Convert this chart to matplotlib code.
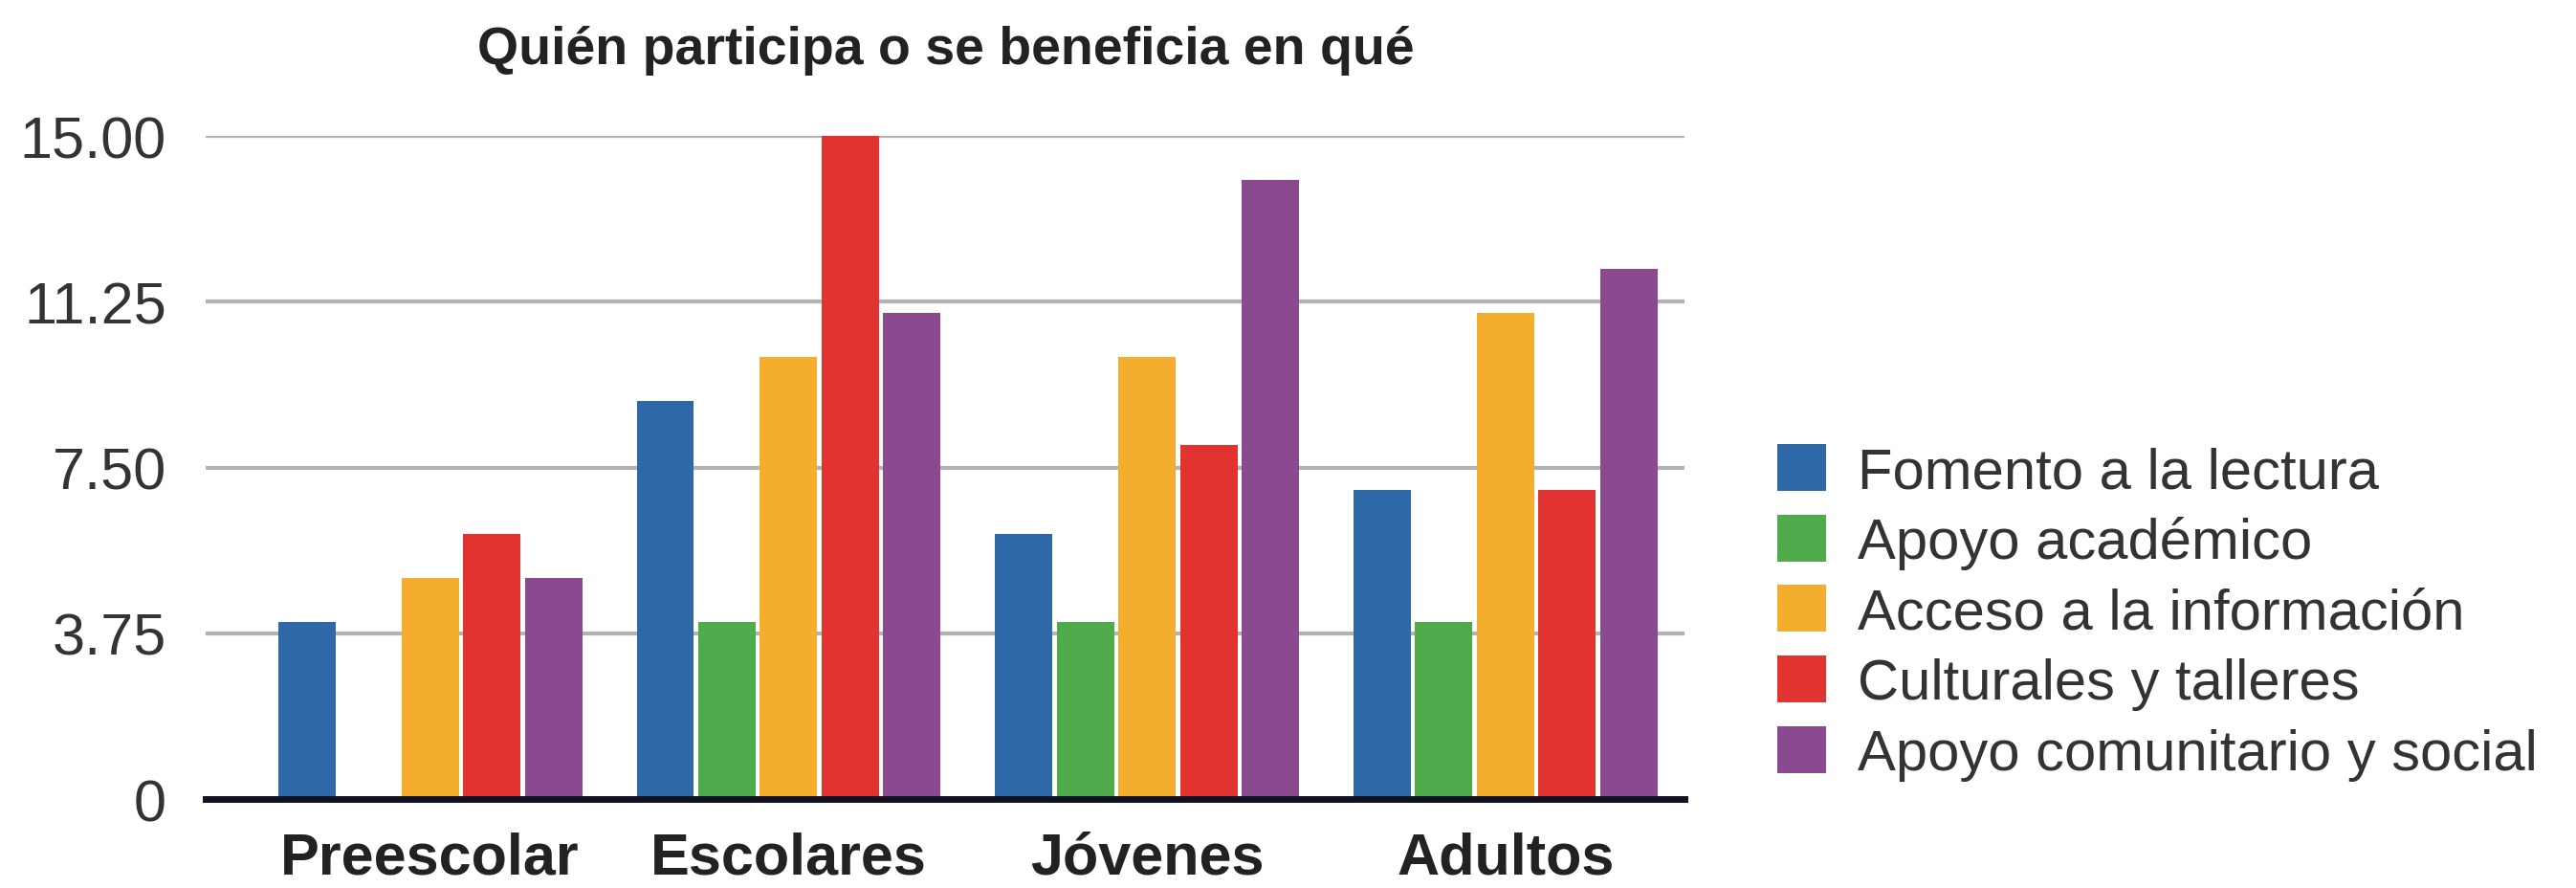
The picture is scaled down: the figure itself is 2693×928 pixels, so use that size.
import numpy as np
import matplotlib
matplotlib.use("Agg")
import matplotlib.pyplot as plt

plt.rcParams['font.family'] = ['Liberation Sans', 'DejaVu Sans']

# data
categories = ['Preescolar', 'Escolares', 'Jóvenes', 'Adultos']
series_names = ['Fomento a la lectura', 'Apoyo académico', 'Acceso a la información',
                'Culturales y talleres', 'Apoyo comunitario y social']
fomento = [4, 9, 6, 7]
apoyo_academico = [0, 4, 4, 4]
acceso = [5, 10, 10, 11]
culturales = [6, 15, 8, 7]
comunitario = [5, 11, 14, 12]
y_ticks = [0, 3.75, 7.5, 11.25, 15.0]
y_tick_labels = ['0', '3.75', '7.50', '11.25', '15.00']

colors = ['#2e68a6', '#4fab4c', '#f5ad2e', '#e1332f', '#8b4a90']
values = [fomento, apoyo_academico, acceso, culturales, comunitario]

fig = plt.figure(figsize=(26.93, 9.29), dpi=100)
ax = fig.add_axes([0.080, 0.100, 0.574, 0.746])

x = np.arange(len(categories))
slot = 0.172
for i, (name, vals) in enumerate(zip(series_names, values)):
    offs = (i - 2) * slot
    ax.bar(x + offs, vals, width=slot * 0.93, color=colors[i], label=name, zorder=3)

ax.set_xlim(-0.625, 3.5)
ax.set_ylim(0, 15.0)
ax.set_yticks(y_ticks)
ax.set_yticklabels(y_tick_labels, fontsize=44, color='#333333')
ax.set_xticks(x)
ax.set_xticklabels(categories, fontsize=44, fontweight='bold', color='#222222')
ax.tick_params(axis='both', length=0)
ax.tick_params(axis='y', pad=30)
ax.tick_params(axis='x', pad=24)

ax.yaxis.grid(True, color='#b3b3b3', linewidth=3, zorder=0)
for s in ['top', 'right', 'left']:
    ax.spines[s].set_visible(False)
ax.spines['bottom'].set_color('#111122')
ax.spines['bottom'].set_linewidth(5)
ax.spines['bottom'].set_zorder(4)

ax.set_title('Quién participa o se beneficia en qué', fontsize=40, fontweight='bold',
             color='#222222', pad=55)

ax.legend(loc='center left', bbox_to_anchor=(0.670, 0.31), bbox_transform=fig.transFigure,
          frameon=False, fontsize=43, handlelength=0.85, handleheight=0.88,
          handletextpad=0.55, labelspacing=0.28, labelcolor='#333333')

fig.savefig('out.png', dpi=100, facecolor='white')
